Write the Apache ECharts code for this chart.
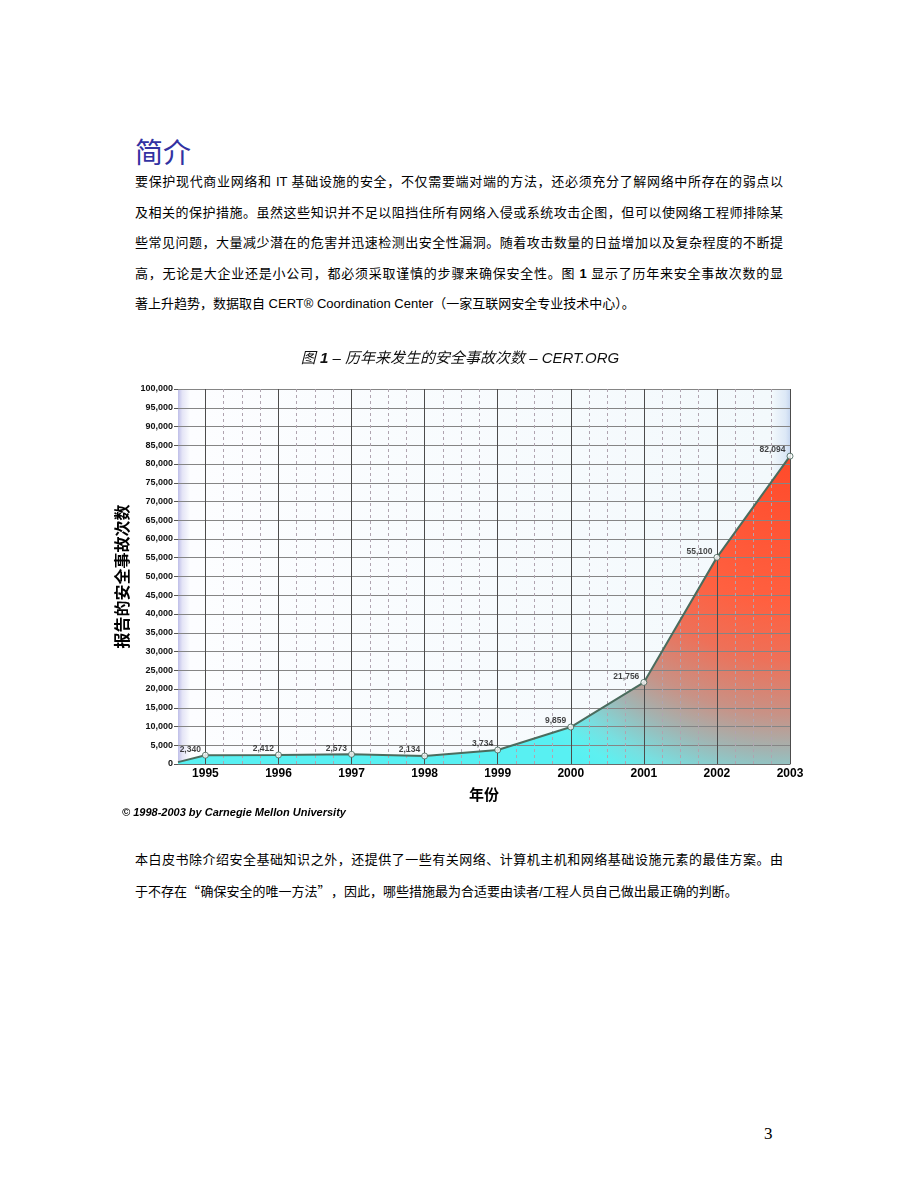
<!DOCTYPE html>
<html>
<head>
<meta charset="utf-8">
<script src="https://cdn.jsdelivr.net/npm/echarts@6/dist/echarts.min.js"></script>
<style>
  html, body { margin: 0; padding: 0; background: #fff; }
  #page { position: relative; width: 920px; height: 1191px; overflow: hidden;
          font-family: "Liberation Sans", Arial, "Noto Sans CJK SC", sans-serif; color: #000; }
  .h1 { position: absolute; left: 135px; top: 131px; font-size: 28px; line-height: 40px;
        color: #3232a2; font-family: "Noto Sans CJK SC", sans-serif; }
  .ln { position: absolute; left: 135px; width: 648px; font-size: 13px; line-height: 26px;
        height: 26px; white-space: nowrap; text-align: justify; text-align-last: justify; }
  .ln.last { text-align: left; text-align-last: left; }
  .q { display: inline-block; width: 13.5px; font-family: "Noto Sans CJK SC", sans-serif; }
  .q.open { text-align: right; }
  .q.close { text-align: left; }
  .cap { position: absolute; left: 122px; top: 805px; font-size: 11px; font-weight: bold;
         font-style: italic; line-height: 14px; }
  .pn { position: absolute; left: 764px; top: 1124px; font-size: 17px;
        font-family: "Liberation Serif", "Times New Roman", serif; }
  #rightThree { position: absolute; left: 0; top: 330px; width: 920px; height: 500px; }
</style>
</head>
<body>
<div id="page">
  <div class="h1">简介</div>
  <div class="ln" style="top:169px">要保护现代商业网络和 IT 基础设施的安全，不仅需要端对端的方法，还必须充分了解网络中所存在的弱点以</div>
  <div class="ln" style="top:199.5px">及相关的保护措施。虽然这些知识并不足以阻挡住所有网络入侵或系统攻击企图，但可以使网络工程师排除某</div>
  <div class="ln" style="top:230px">些常见问题，大量减少潜在的危害并迅速检测出安全性漏洞。随着攻击数量的日益增加以及复杂程度的不断提</div>
  <div class="ln" style="top:260.5px">高，无论是大企业还是小公司，都必须采取谨慎的步骤来确保安全性。图 <b>1</b> 显示了历年来安全事故次数的显</div>
  <div class="ln last" style="top:291px">著上升趋势，数据取自 CERT® Coordination Center（一家互联网安全专业技术中心）。</div>

  <div id="rightThree"></div>

  <div class="cap">© 1998-2003 by Carnegie Mellon University</div>

  <div class="ln" style="top:847px">本白皮书除介绍安全基础知识之外，还提供了一些有关网络、计算机主机和网络基础设施元素的最佳方案。由</div>
  <div class="ln last" style="top:878px">于不存在<span class="q open">“</span>确保安全的唯一方法<span class="q close">”</span>，因此，哪些措施最为合适要由读者/工程人员自己做出最正确的判断。</div>

  <div class="pn">3</div>
</div>

<script>
// data
const years = [1995, 1996, 1997, 1998, 1999, 2000, 2001, 2002, 2003];
const incidents = [2340, 2412, 2573, 2134, 3734, 9859, 21756, 55100, 82094];
const axisStart = 1994.625;   // left edge of the plot
const edgeValue = 500;        // where the filled area meets the left edge
const yMax = 100000;
const yStep = 5000;

const points = years.map((y, i) => [y, incidents[i]]);
const outline = [[axisStart, edgeValue]].concat(points);

// grid lines (drawn as mark lines so they sit over the fill, like the original)
let yGrid = [];
for (let v = yStep; v <= yMax; v += yStep) yGrid.push(v);
let quarterLines = [];
years.slice(0, -1).forEach(y => { quarterLines.push(y + 0.25, y + 0.5, y + 0.75); });

const gridLines = []
  .concat(yGrid.map(v => ({ yAxis: v, lineStyle: { color: '#858585', width: 1, type: 'solid' } })))
  .concat(quarterLines.map(v => ({ xAxis: v, lineStyle: { color: '#b0a4b0', width: 1, type: [3, 3] } })))
  .concat(years.map(v => ({ xAxis: v, lineStyle: { color: '#4c4c4c', width: 1, type: 'solid' } })));

let myCharts = echarts.init(document.getElementById('rightThree'));
let option = {
  animation: false,
  title: {
    text: '{a|图 }{b|1}{a| – 历年来发生的安全事故次数 – CERT.ORG}',
    left: 'center',
    top: 16,
    textStyle: {
      rich: {
        a: { fontSize: 15, fontStyle: 'italic', fontWeight: 'normal', color: '#111',
             fontFamily: '"Liberation Sans", Arial, "Noto Sans CJK SC"' },
        b: { fontSize: 15, fontStyle: 'italic', fontWeight: 'bold', color: '#111',
             fontFamily: '"Liberation Sans", Arial, "Noto Sans CJK SC"' }
      }
    }
  },
  grid: {
    left: 178,
    right: 130,
    top: 59,
    bottom: 66,
    show: true,
    borderWidth: 0,
    backgroundColor: new echarts.graphic.LinearGradient(0, 0, 1, 0, [
      { offset: 0, color: '#bebee8' },
      { offset: 0.007, color: '#e4e4f6' },
      { offset: 0.02, color: '#fcfdff' },
      { offset: 0.97, color: '#f3f9fc' },
      { offset: 0.993, color: '#dce8f6' },
      { offset: 1, color: '#c8d8f0' }
    ])
  },
  xAxis: {
    type: 'value',
    min: axisStart,
    max: 2003,
    name: '年份',
    nameLocation: 'middle',
    nameGap: 23,
    nameTextStyle: { fontSize: 15, fontWeight: 'bold', color: '#000', fontFamily: '"Noto Sans CJK SC"' },
    splitLine: { show: false },
    axisTick: { show: false },
    axisLine: { show: true, lineStyle: { color: '#6a6a6a', width: 1 } },
    axisLabel: {
      customValues: years,
      margin: 4,
      fontSize: 12,
      fontWeight: 'bold',
      color: '#000',
      fontFamily: '"Liberation Sans", Arial',
      formatter: v => String(v)
    }
  },
  yAxis: {
    type: 'value',
    min: 0,
    max: yMax,
    interval: yStep,
    name: '报告的安全事故次数',
    nameLocation: 'middle',
    nameGap: 44,
    nameTextStyle: { fontSize: 16, fontWeight: 'bold', color: '#000', fontFamily: '"Noto Sans CJK SC"' },
    splitLine: { show: false },
    axisLine: { show: false },
    axisTick: { show: true, length: 4, lineStyle: { color: '#555' } },
    axisLabel: {
      margin: 5,
      fontSize: 9,
      fontWeight: 'bold',
      color: '#111',
      fontFamily: '"Liberation Sans", Arial',
      formatter: v => v.toLocaleString('en-US')
    }
  },
  series: [
    {
      name: 'fill',
      type: 'line',
      data: outline,
      showSymbol: false,
      silent: true,
      lineStyle: { width: 0 },
      areaStyle: {
        opacity: 1,
        color: new echarts.graphic.RadialGradient(1, 0, 1.2, [
          { offset: 0, color: '#ff4a2a' },
          { offset: 0.4, color: '#ff6040' },
          { offset: 0.55, color: '#ee7058' },
          { offset: 0.7, color: '#c89286' },
          { offset: 0.8, color: '#a2b4b2' },
          { offset: 0.9, color: '#78dfe0' },
          { offset: 0.96, color: '#5ef0f0' },
          { offset: 1, color: '#58f0f2' }
        ])
      },
      markLine: {
        silent: true,
        symbol: 'none',
        label: { show: false },
        animation: false,
        data: gridLines
      }
    },
    {
      name: 'line',
      type: 'line',
      z: 6,
      data: outline,
      showSymbol: false,
      silent: true,
      lineStyle: { color: '#4b6c5e', width: 2 }
    },
    {
      name: '报告的安全事故次数',
      type: 'scatter',
      z: 7,
      data: points,
      symbol: 'circle',
      symbolSize: 6,
      itemStyle: { color: '#ffffff', borderColor: '#3f5f52', borderWidth: 1 },
      label: {
        show: true,
        position: 'left',
        distance: 1,
        offset: [0, -6],
        fontSize: 8.5,
        fontWeight: 'bold',
        color: '#111',
        fontFamily: '"Liberation Sans", Arial',
        formatter: p => p.value[1].toLocaleString('en-US')
      }
    }
  ]
};
myCharts.setOption(option);
window.addEventListener('resize', function () {
  myCharts.resize();
});
</script>
</body>
</html>
